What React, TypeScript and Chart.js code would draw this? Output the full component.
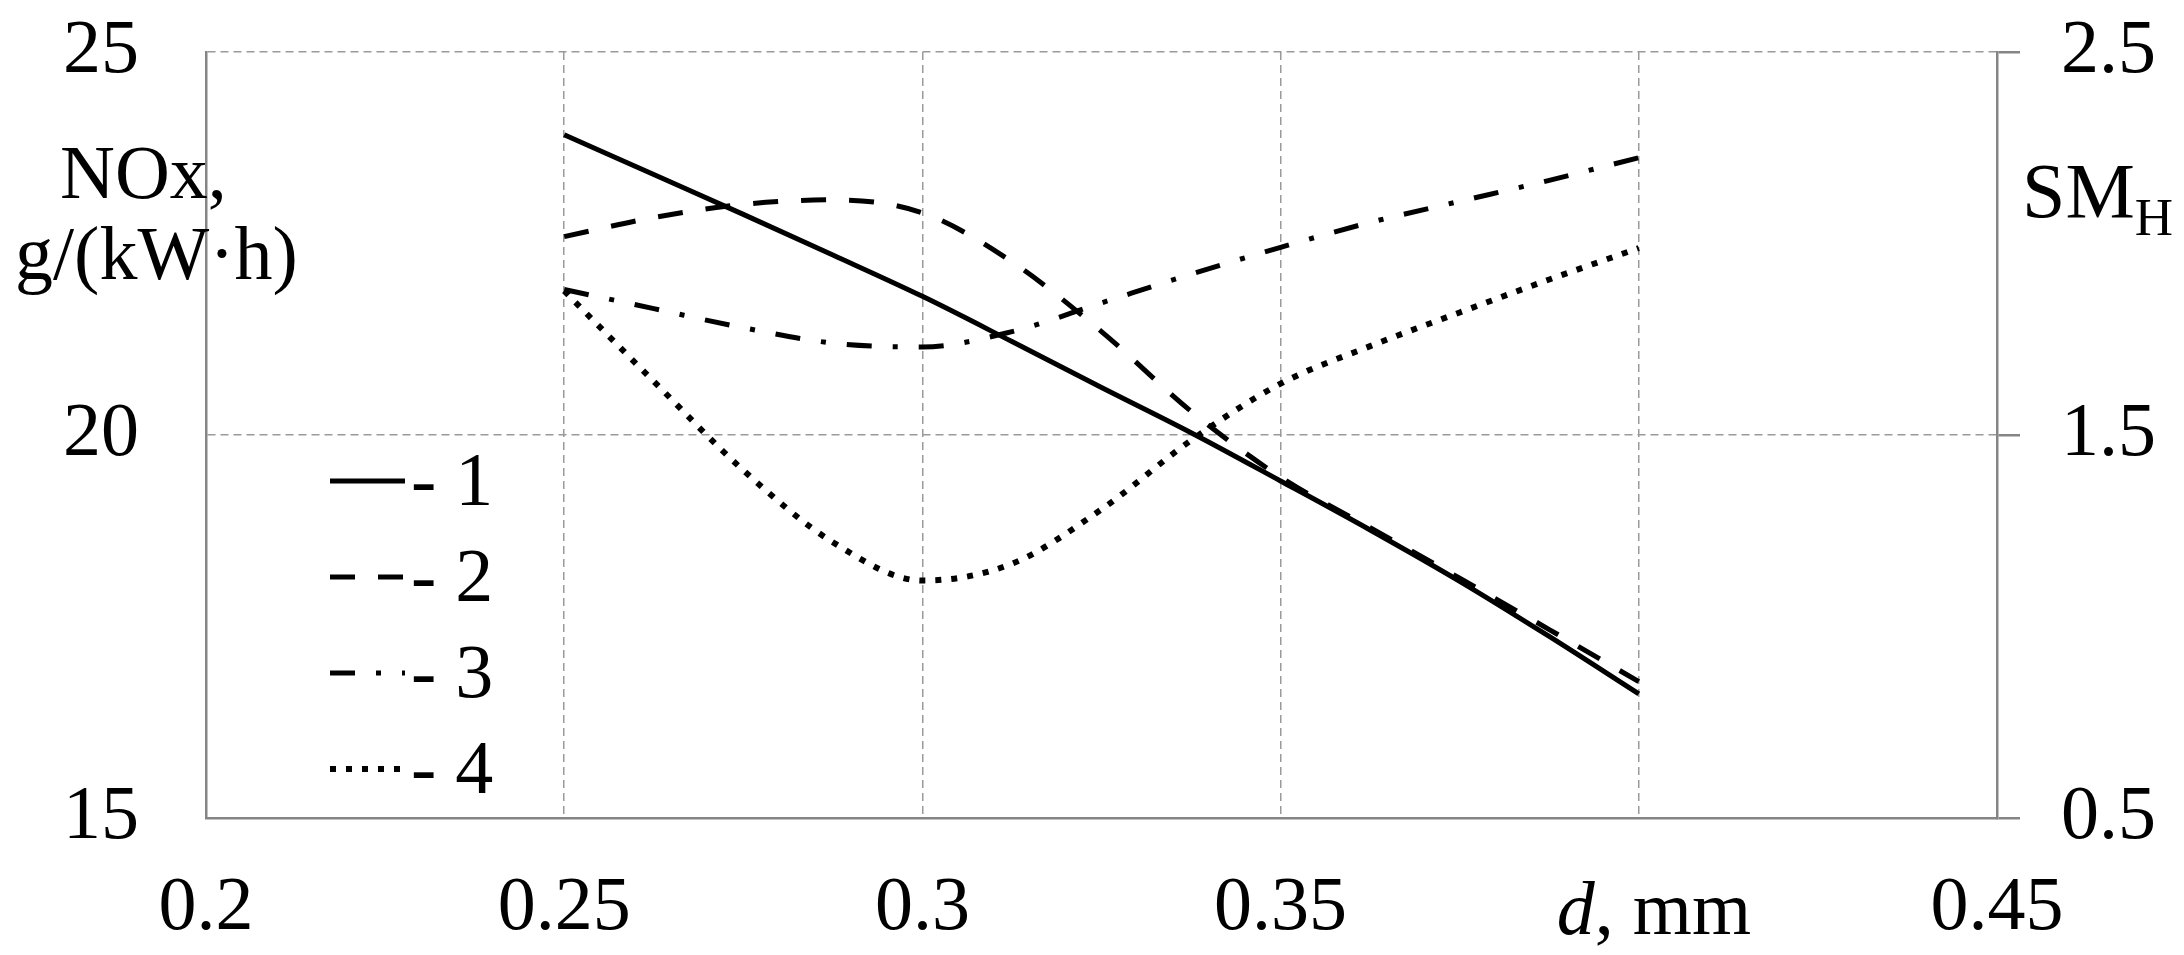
import React, { useEffect, useRef } from 'react';
import { Chart, registerables } from 'chart.js';

Chart.register(...registerables);

// ---- data ----
const dValues = [0.25, 0.2625, 0.275, 0.2875, 0.3, 0.3125, 0.325, 0.3375, 0.35, 0.3625, 0.375, 0.3875, 0.4];
const noxSeries1 = [23.92, 23.4, 22.88, 22.35, 21.81, 21.22, 20.62, 20.03, 19.4, 18.76, 18.09, 17.37, 16.62];
const noxSeries2 = [22.59, 22.84, 23.01, 23.07, 22.9, 22.26, 21.35, 20.31, 19.45, 18.79, 18.13, 17.46, 16.78];
const smSeries3 = [1.88, 1.83, 1.78, 1.74, 1.73, 1.77, 1.845, 1.92, 1.99, 2.055, 2.11, 2.165, 2.224];
const smSeries4 = [1.876, 1.64, 1.408, 1.22, 1.12, 1.164, 1.306, 1.486, 1.634, 1.732, 1.82, 1.906, 1.988];
const seriesLabels = ['1', '2', '3', '4'];

const xTicks = [0.2, 0.25, 0.3, 0.35, 0.4, 0.45];
const xTickLabels = ['0.2', '0.25', '0.3', '0.35', '', '0.45'];
const yLeftTicks = [15, 20, 25];
const yLeftTickLabels = ['15', '20', '25'];
const yRightTicks = [0.5, 1.5, 2.5];
const yRightTickLabels = ['0.5', '1.5', '2.5'];
const leftTitleLines = ['NOx,', 'g/(kW·h)'];
const rightTitleMain = 'SM';
const rightTitleSub = 'H';
const xTitleItalic = 'd';
const xTitleRest = ', mm';

const FONT = '"Liberation Serif", "Times New Roman", serif';

export default function App() {
  const ref = useRef<HTMLCanvasElement | null>(null);

  useEffect(() => {
    document.body.style.margin = '0';
    const canvas = ref.current;
    if (!canvas) return;

    const toPts = (ys: number[]) => dValues.map((d, i) => ({ x: d, y: ys[i] }));

    const textPlugin = {
      id: 'customText',
      afterDraw(chart: any) {
        const ctx = chart.ctx as CanvasRenderingContext2D;
        const area = chart.chartArea;
        const xs = chart.scales.x;
        ctx.save();
        ctx.fillStyle = '#000';
        ctx.textBaseline = 'alphabetic';
        ctx.textAlign = 'left';

        // left axis title
        ctx.font = `76px ${FONT}`;
        ctx.fillText(leftTitleLines[0], area.left - 146, area.top + 146);
        ctx.fillText(leftTitleLines[1], area.left - 191, area.top + 227);

        // right axis title with subscript
        ctx.font = `78px ${FONT}`;
        const rx = area.right + 25;
        ctx.fillText(rightTitleMain, rx, area.top + 165);
        const w = ctx.measureText(rightTitleMain).width;
        ctx.font = `53px ${FONT}`;
        ctx.fillText(rightTitleSub, rx + w, area.top + 183);

        // x axis title placed at the 0.4 tick
        const px = xs.getPixelForValue(0.4) - 82;
        ctx.font = `italic 76px ${FONT}`;
        ctx.fillText(xTitleItalic, px, area.bottom + 116);
        const wd = ctx.measureText(xTitleItalic).width;
        ctx.font = `76px ${FONT}`;
        ctx.fillText(xTitleRest, px + wd, area.bottom + 116);

        // legend inside the plot
        chart.data.datasets.forEach((ds: any, i: number) => {
          const y = 481 + 96 * i;
          const x0 = area.left + 124;
          ctx.save();
          ctx.strokeStyle = ds.borderColor;
          ctx.lineWidth = ds.borderWidth;
          ctx.lineCap = 'butt';
          ctx.setLineDash(ds.borderDash || []);
          ctx.beginPath();
          ctx.moveTo(x0, y);
          ctx.lineTo(x0 + 75, y);
          ctx.stroke();
          ctx.restore();
          ctx.font = `76px ${FONT}`;
          ctx.fillText('- ' + ds.label, x0 + 81, y + 24);
        });
        ctx.restore();
      },
    };

    const gridColor = '#9a9a9a';
    const axisColor = '#858585';
    const tickFont = { family: FONT, size: 76 };
    const noPad = (s: any) => {
      s.paddingTop = 0;
      s.paddingBottom = 0;
      s.paddingLeft = 0;
      s.paddingRight = 0;
    };

    const chart = new Chart(canvas, {
      type: 'line',
      data: {
        datasets: [
          {
            label: seriesLabels[0],
            data: toPts(noxSeries1),
            yAxisID: 'y',
            borderColor: '#000',
            borderWidth: 5,
            borderDash: [],
            pointRadius: 0,
            cubicInterpolationMode: 'monotone',
            fill: false,
          },
          {
            label: seriesLabels[1],
            data: toPts(noxSeries2),
            yAxisID: 'y',
            borderColor: '#000',
            borderWidth: 5,
            borderDash: [25, 23],
            pointRadius: 0,
            cubicInterpolationMode: 'monotone',
            fill: false,
          },
          {
            label: seriesLabels[2],
            data: toPts(smSeries3),
            yAxisID: 'y2',
            borderColor: '#000',
            borderWidth: 5,
            borderDash: [25, 21, 5, 21],
            pointRadius: 0,
            cubicInterpolationMode: 'monotone',
            fill: false,
          },
          {
            label: seriesLabels[3],
            data: toPts(smSeries4),
            yAxisID: 'y2',
            borderColor: '#000',
            borderWidth: 6,
            borderDash: [6, 10],
            pointRadius: 0,
            cubicInterpolationMode: 'monotone',
            fill: false,
          },
        ],
      },
      options: {
        animation: false,
        responsive: false,
        maintainAspectRatio: false,
        events: [],
        layout: { padding: { left: 0, right: 28, top: 52, bottom: 0 } },
        plugins: { legend: { display: false }, tooltip: { enabled: false }, title: { display: false } },
        scales: {
          x: {
            type: 'linear',
            position: 'bottom',
            min: 0.2,
            max: 0.45,
            afterBuildTicks: (s: any) => {
              s.ticks = xTicks.map((v) => ({ value: v }));
            },
            afterFit: (s: any) => {
              s.height = 137;
              noPad(s);
            },
            ticks: {
              font: tickFont,
              color: '#000',
              padding: 45,
              maxRotation: 0,
              autoSkip: false,
              callback: (_v: any, i: number) => xTickLabels[i],
            },
            grid: {
              drawTicks: false,
              lineWidth: 1.5,
              color: (c: any) =>
                c.tick && (c.tick.value <= 0.2001 || c.tick.value >= 0.4499) ? 'rgba(0,0,0,0)' : gridColor,
            },
            border: { display: true, color: axisColor, width: 2.5, dash: [8, 5] },
          },
          y: {
            type: 'linear',
            position: 'left',
            min: 15,
            max: 25,
            afterBuildTicks: (s: any) => {
              s.ticks = yLeftTicks.map((v) => ({ value: v }));
            },
            afterFit: (s: any) => {
              s.width = 206;
              noPad(s);
            },
            ticks: {
              font: tickFont,
              color: '#000',
              padding: 67,
              autoSkip: false,
              callback: (_v: any, i: number) => yLeftTickLabels[i],
            },
            grid: {
              drawTicks: false,
              lineWidth: 1.5,
              color: (c: any) => (c.tick && c.tick.value <= 15.001 ? 'rgba(0,0,0,0)' : gridColor),
            },
            border: { display: true, color: axisColor, width: 2.5, dash: [8, 5] },
          },
          y2: {
            type: 'linear',
            position: 'right',
            min: 0.5,
            max: 2.5,
            afterBuildTicks: (s: any) => {
              s.ticks = yRightTicks.map((v) => ({ value: v }));
            },
            afterFit: (s: any) => {
              s.width = 159;
              noPad(s);
            },
            ticks: {
              font: tickFont,
              color: '#000',
              crossAlign: 'far',
              autoSkip: false,
              callback: (_v: any, i: number) => yRightTickLabels[i],
            },
            grid: {
              drawOnChartArea: false,
              drawTicks: true,
              tickLength: 23,
              tickWidth: 2.5,
              tickColor: axisColor,
              tickBorderDash: [],
              color: axisColor,
              lineWidth: 2.5,
            },
            border: { display: true, color: axisColor, width: 2.5 },
          },
        },
      } as any,
      plugins: [textPlugin],
    });

    return () => {
      chart.destroy();
    };
  }, []);

  return (
    <div style={{ width: 2184, height: 955, position: 'relative', background: '#fff' }}>
      <canvas ref={ref} width={2184} height={955} style={{ display: 'block', width: 2184, height: 955 }} />
    </div>
  );
}
